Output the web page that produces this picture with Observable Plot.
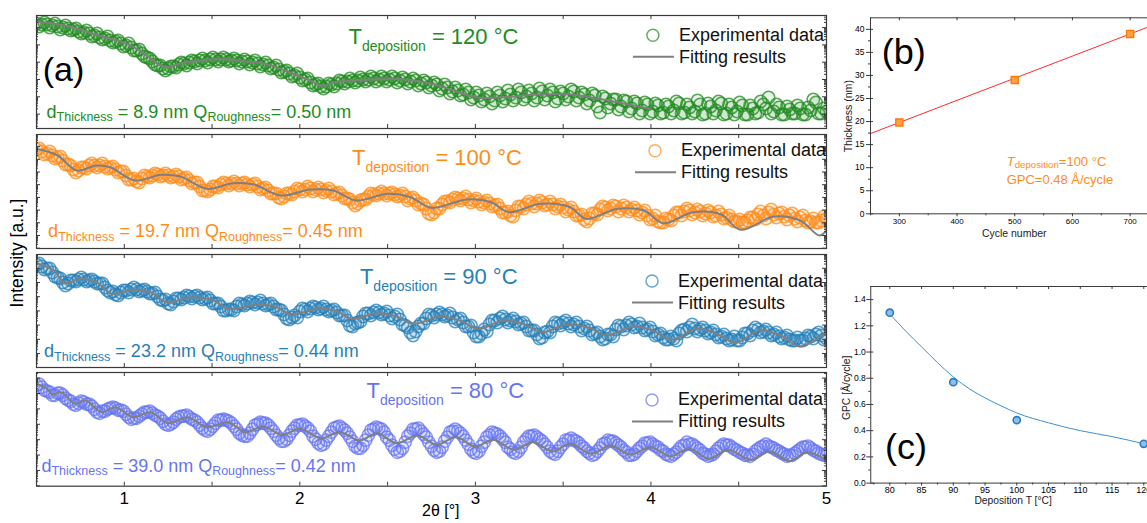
<!DOCTYPE html>
<html><head><meta charset="utf-8">
<script src="https://cdn.jsdelivr.net/npm/d3@7"></script>
<script src="https://cdn.jsdelivr.net/npm/@observablehq/plot@0.6"></script>
<style>
html,body{margin:0;padding:0;background:#fff;overflow:hidden}
#fig{position:relative;width:1147px;height:523px;overflow:hidden;background:#fff}
</style></head>
<body><div id="fig"></div>
<script>
const FONT = '"Liberation Sans", Arial, Helvetica, sans-serif';

// ---------- (a) X-ray reflectivity data (log intensity, arbitrary units) ----------
// readings taken every 0.03° starting at 0.5° (set A) and at the in-between positions (set B)
const startA = 0.5, startB = 0.515, stepExp = 0.03;
const temps = [120, 100, 90, 80];
const colors = ["#228b22", "#ff8c1a", "#2680b8", "#6674f2"];
const thickVals = ["8.9", "19.7", "23.2", "39.0"];
const roughVals = ["0.50", "0.45", "0.44", "0.42"];
const xTickLabels = [1, 2, 3, 4, 5];
const xMinorTicks = [1, 1.5, 2, 2.5, 3, 3.5, 4, 4.5];

const exp120 = [
105,104,104,103,102,101,100,99,97,96,
95,93,91,90,88,87,85,83,81,78,
75,71,67,63,60,60,62,64,65,66,
67,68,68,69,69,69,69,68,68,67,
67,66,65,64,63,61,59,57,55,53,
51,49,46,44,42,42,44,45,47,47,
48,48,49,49,50,49,50,49,50,48,
49,47,48,45,46,43,44,40,41,37,
38,34,36,31,33,29,32,28,33,30,
34,31,36,32,35,31,37,33,36,30,
35,32,37,31,34,28,33,16,30,25,
29,22,27,20,25,18,24,17,23,16,
22,18,25,16,21,17,24,15,22,18,
25,15,21,17,23,14,20,16,24,31,
17,21,14,19,15,20,14,18,26,15,
17];
const exp120b = [
102,106,101,105,99,103,98,100,95,98,
92,95,89,92,86,88,82,85,78,79,
72,70,64,63,58,62,61,66,63,68,
65,70,66,71,67,71,67,70,65,69,
64,68,62,66,60,63,56,58,52,55,
48,50,43,45,40,45,42,48,45,50,
46,51,47,52,47,52,47,52,46,51,
45,50,43,48,41,46,38,44,35,41,
33,39,29,36,27,35,25,36,27,38,
28,39,29,38,28,40,29,39,27,37,
29,39,28,36,25,35,22,32,21,29,
19,28,17,27,15,26,15,25,15,24,
15,27,15,24,15,28,14,25,15,27,
14,24,14,26,14,23,15,27,20,15,
24,14,22,15,23,14,21,29,15,20];
const exp100 = [
99,97,95,93,91,88,84,79,78,81,
83,83,83,82,81,79,77,73,69,67,
70,72,73,74,73,73,72,72,70,68,
66,62,58,59,62,64,65,65,65,65,
64,64,62,60,58,55,51,52,55,57,
59,59,60,59,59,58,57,55,53,50,
46,45,49,52,54,55,55,55,54,53,
52,50,48,45,40,34,40,44,47,49,
50,50,49,48,47,46,45,43,40,36,
33,38,42,44,45,45,46,44,44,42,
41,39,37,33,29,30,35,39,41,40,
42,40,41,39,38,36,33,30,27,26,
29,33,36,37,38,36,37,35,36,33,
34,31,29,27,26,28,31,34,33,36,
34,35,32,33,30,31,28,27,26,28,
30];
const exp100b = [
100,94,97,90,92,84,83,76,81,80,
85,81,85,80,82,76,77,69,70,66,
73,71,75,72,75,71,74,69,71,65,
66,58,57,62,61,66,63,67,63,66,
62,65,59,61,55,55,50,55,54,60,
57,62,57,61,56,60,54,56,50,49,
43,48,49,55,53,57,53,56,52,55,
48,51,44,44,35,36,40,47,46,51,
48,52,46,50,44,48,42,44,36,37,
32,42,40,47,42,48,43,47,40,44,
37,41,33,34,27,35,34,42,38,43,
37,43,37,41,34,38,29,33,26,30,
28,36,33,40,34,39,33,38,32,37,
30,33,27,29,26,31,29,37,30,39,
31,36,29,35,27,33,26,30,26,32];
const exp90 = [
103,101,99,95,90,85,84,87,88,88,
87,86,84,80,75,73,75,77,78,78,
77,76,74,71,67,64,66,69,70,71,
71,70,69,67,64,61,57,58,61,63,
64,65,65,64,63,61,58,53,48,52,
56,58,59,60,59,58,57,55,52,47,
41,45,51,54,55,55,54,52,51,48,
42,35,36,44,49,52,53,53,52,50,
48,45,41,35,31,38,43,47,49,48,
47,46,44,41,37,33,30,36,41,44,
45,44,43,41,39,37,34,31,29,33,
38,41,42,43,41,40,38,36,33,30,
28,29,34,38,40,39,38,37,35,33,
31,29,28,27,30,34,37,38,36,35,
33,31,30,28,27,27,29,31,33,32,
29];
const exp90b = [
104,98,99,91,89,82,87,86,90,86,
88,84,84,77,76,72,77,75,80,76,
78,74,75,68,68,63,69,68,72,69,
72,68,70,64,64,57,58,57,64,62,
66,63,67,62,64,58,57,49,50,50,
59,56,61,58,61,56,58,52,52,42,
44,46,54,52,57,53,56,49,53,43,
40,32,41,44,53,50,55,51,54,46,
49,41,42,31,34,36,47,45,51,45,
49,43,45,37,37,29,35,35,45,42,
47,41,45,37,41,33,35,28,33,31,
42,38,45,40,44,37,40,32,34,28,
31,27,37,36,43,36,40,34,37,30,
33,27,31,27,34,32,40,35,38,32,
35,29,32,27,30,27,32,29,35,28];
const exp80 = [
101,99,95,91,93,91,86,82,83,84,
82,77,73,75,78,78,76,72,67,68,
72,74,73,70,65,61,64,69,70,69,
66,61,56,57,63,66,66,63,57,51,
50,57,62,63,61,55,48,45,51,58,
61,60,55,47,41,46,54,59,58,53,
45,38,41,51,57,58,54,46,37,35,
44,53,57,55,49,40,34,39,49,55,
55,50,42,34,35,44,51,53,50,44,
37,33,39,47,50,49,45,39,33,35,
42,46,46,43,38,33,32,38,43,45,
43,39,34,31,35,40,43,42,39,35,
31,32,37,41,42,40,36,32,31,35,
40,41,39,36,33,31,32,37,40,40,
38,35,32,31,33,37,39,38,35,32,
31];
const exp80b = [
102,96,94,91,93,88,85,81,85,82,
80,74,75,77,79,76,75,69,68,70,
74,75,71,68,62,62,67,70,71,67,
64,58,55,60,66,67,65,60,53,50,
53,61,64,63,58,51,45,47,55,61,
62,58,50,43,42,50,58,60,56,49,
40,38,46,56,59,57,49,41,34,38,
50,57,58,52,44,36,35,45,54,57,
53,46,37,33,40,49,54,52,47,39,
34,35,44,50,51,47,42,35,32,39,
46,48,45,40,35,31,35,42,46,45,
41,36,31,32,38,43,44,40,36,32,
30,34,40,44,42,38,33,30,32,38,
42,41,37,34,31,30,35,39,42,39,
36,33,30,31,35,39,40,36,33,31];

const fit120 = [[0.50,107],[0.67,102.7],[0.86,92.7],[1.02,84.4],[1.13,72.7],[1.21,62.7],[1.26,61.7],[1.32,65],[1.43,67.7],[1.55,69.4],[1.66,67.7],[1.81,64.4],[1.96,54.7],[2.06,47.7],[2.13,42.7],[2.19,46],[2.38,48.7],[2.57,49.4],[2.76,44.4],[3.01,31],[3.14,31],[3.33,33.7],[3.52,34.4],[3.71,29.4],[4.00,19.4]];
const fit100 = [[0.50,99.7],[0.62,93],[0.73,78],[0.84,83],[0.92,81.3],[1.06,68],[1.21,73.7],[1.32,72],[1.47,59.7],[1.62,65.3],[1.74,64],[1.89,53],[2.06,59],[2.19,58],[2.32,48],[2.50,54.7],[2.63,51.3],[2.75,40.7],[2.95,49],[3.09,46.3],[3.19,36.3],[3.37,44.7],[3.54,41.3],[3.63,29.7],[3.81,39.7],[3.96,38],[4.07,25.3],[4.24,36.3],[4.40,34],[4.51,18.7],[4.70,32],[4.85,28],[4.96,13],[5.00,18]];
const fit90 = [[0.50,104.3],[0.60,97],[0.66,84.3],[0.75,88.7],[0.84,85.3],[0.93,73.7],[1.05,77.7],[1.15,75.3],[1.24,65.3],[1.39,70.3],[1.51,67],[1.59,58.7],[1.77,63],[1.87,60.3],[1.95,53],[2.10,58.7],[2.21,56.3],[2.30,48.7],[2.44,54.3],[2.55,51],[2.65,43.7],[2.80,51],[2.91,47],[3.02,38.7],[3.16,47],[3.27,43.7],[3.38,35.3],[3.52,43],[3.65,39.7],[3.75,32],[3.90,41],[4.01,37],[4.12,27.7],[4.26,38.7],[4.37,34.3],[4.48,24.7],[4.62,37],[4.74,32],[4.85,21],[5.00,35.3]];
const fit80 = [[0.50,102.4],[0.56,97.4],[0.59,91.7],[0.64,94],[0.72,82.4],[0.78,85.7],[0.87,74],[0.95,79],[1.05,69],[1.15,74],[1.25,63],[1.36,69],[1.47,59],[1.59,64],[1.69,54],[1.79,59.7],[1.90,51.4],[2.00,57.4],[2.12,48],[2.23,54],[2.34,45.7],[2.44,53],[2.55,43],[2.67,50.7],[2.78,41.5],[2.89,49],[3.00,39.7],[3.10,46.4],[3.22,36.4],[3.33,44],[3.44,34.7],[3.54,42.4],[3.66,32.4],[3.77,40.7],[3.88,31.7],[4.00,39],[4.11,30],[4.22,37.4],[4.33,27.4],[4.44,36.4],[4.57,26.4],[4.68,34.7],[4.79,25],[4.89,34],[5.00,25.7]];

// ---------- (b) thickness vs cycles ----------
const cycles = [300, 500, 700];
const thickness = [19.8, 29.0, 39.0];
const thickFit = [[250, 17.4], [750, 41.4]];
const cycleTicks = [300, 400, 500, 600, 700];
const cycleMinor = [250, 350, 450, 550, 650, 750];
const thickTicks = [0, 5, 10, 15, 20, 25, 30, 35, 40];
const thickMinor = [2.5, 7.5, 12.5, 17.5, 22.5, 27.5, 32.5, 37.5];

// ---------- (c) GPC vs deposition temperature ----------
const depT = [80, 90, 100, 120];
const gpc = [1.30, 0.77, 0.48, 0.30];
const gpcFit = [[80,1.29],[82.5,1.16],[85,1.04],[87.5,0.92],[90,0.81],[92.5,0.72],[95,0.65],[97.5,0.59],[100,0.535],[105,0.46],[110,0.40],[115,0.355],[120,0.30]];
const tempTicks = [80, 85, 90, 95, 100, 105, 110, 115, 120];
const tempMinor = [77.5, 82.5, 87.5, 92.5, 97.5, 102.5, 107.5, 112.5, 117.5];
const gpcTicks = [0, 0.2, 0.4, 0.6, 0.8, 1.0, 1.2, 1.4];
const gpcMinor = [0.1, 0.3, 0.5, 0.7, 0.9, 1.1, 1.3];

// ---------- helpers ----------
const fig = document.getElementById("fig");
function place(svg, left, top) {
  svg.style.position = "absolute";
  svg.style.left = left + "px";
  svg.style.top = top + "px";
  svg.style.maxWidth = "none";
  fig.appendChild(svg);
}
function scaler(chart, name) {
  const s = chart.scale(name);
  if (s && typeof s.apply === "function") return v => s.apply(v);
  const [d0, d1] = s.domain, [r0, r1] = s.range;
  return v => r0 + (v - d0) / (d1 - d0) * (r1 - r0);
}
function rich(g, x, y, parts, o = {}) {
  const t = g.append("text").attr("x", x).attr("y", y)
    .attr("fill", o.fill || "#000").attr("font-family", FONT)
    .attr("text-anchor", o.anchor || "start")
    .style("white-space", "pre");
  if (o.rotate) t.attr("transform", `rotate(-90,${x},${y})`);
  let cur = 0;
  for (const p of parts) {
    const off = p.dy || 0;
    const ts = t.append("tspan").attr("font-size", p.size).text(p.t);
    if (off !== cur) ts.attr("dy", off - cur);
    if (p.italic) ts.attr("font-style", "italic");
    cur = off;
  }
  return t;
}
const baseStyle = {background: "transparent", fontFamily: FONT, color: "#000", overflow: "visible"};
const AX = "#3a3a3a";

// ---------- (a) panels ----------
const expsA = [exp120, exp100, exp90, exp80];
const expsB = [exp120b, exp100b, exp90b, exp80b];
const fits = [fit120, fit100, fit90, fit80];
const panelsA = [
  {top: 14.7, bottom: 127.7, dec: [14.4, 17.3], title: [2.28, 84.4], dlab: [0.56, 10.4], leg: [4.014, 92.7]},
  {top: 134, bottom: 248, dec: [13, 12.7], title: [2.30, 83], dlab: [0.569, 10.7], leg: [4.026, 97.3]},
  {top: 254, bottom: 367, dec: [14, 14.2], title: [2.345, 82.7], dlab: [0.546, 9.7], leg: [4.009, 86]},
  {top: 372, bottom: 485.7, dec: [15.7, 15.4], title: [2.383, 87.4], dlab: [0.531, 14], leg: [4.009, 85.7]}
];

panelsA.forEach((P, k) => {
  const H = P.bottom - P.top, W = 790;
  const mT = 6, mB = k === 3 ? 40 : 6, mL = 36, mR = 12;
  const data = [
    ...expsA[k].map((v, i) => ({x: startA + i * stepExp, y: v})),
    ...expsB[k].map((v, i) => ({x: startB + i * stepExp, y: v}))
  ].sort((a, b) => a.x - b.x);
  const fit = fits[k].map(([x, y]) => ({x, y}));
  const [d0, ds] = P.dec;
  const major = [], minor = [];
  for (let m = d0 - ds; m <= H; m += ds) {
    if (m >= 0) major.push(m);
    for (let j = 2; j <= 9; j++) {
      const v = m + Math.log10(j) * ds;
      if (v > 0.5 && v < H - 0.5) minor.push(v);
    }
  }
  const marks = [
    Plot.dot(data, {x: "x", y: "y", r: 6.2, stroke: colors[k], fill: colors[k], fillOpacity: 0.1, strokeWidth: 1.5, strokeOpacity: 0.75, clip: true}),
    Plot.line(fit, {x: "x", y: "y", stroke: "#7f7f7f", strokeWidth: 2, curve: "catmull-rom", clip: true}),
    Plot.frame({stroke: AX, strokeWidth: 1.2}),
    Plot.tickX(xMinorTicks, {x: d => d, insetBottom: H - 4, stroke: AX}),
    Plot.tickX(xMinorTicks, {x: d => d, insetTop: H - 4, stroke: AX}),
    Plot.tickY(major, {y: d => d, insetRight: W - 4, stroke: AX}),
    Plot.tickY(major, {y: d => d, insetLeft: W - 4, stroke: AX}),
    Plot.tickY(minor, {y: d => d, insetRight: W - 2, stroke: AX}),
    Plot.tickY(minor, {y: d => d, insetLeft: W - 2, stroke: AX})
  ];
  if (k === 3) marks.push(Plot.axisX(xTickLabels, {anchor: "bottom", tickSize: 0, tickPadding: 6, fontSize: 17, label: null, fill: "#000", tickFormat: d => String(d)}));
  const chart = Plot.plot({
    width: mL + W + mR, height: H + mT + mB,
    marginTop: mT, marginBottom: mB, marginLeft: mL, marginRight: mR,
    style: baseStyle,
    x: k === 3 ? {domain: [0.5, 5]} : {domain: [0.5, 5], axis: null},
    y: {domain: [0, H], axis: null},
    marks
  });
  place(chart, 0, P.top - mT);
  const X = scaler(chart, "x"), Y = scaler(chart, "y");
  const g = d3.select(chart).append("g");
  const c = colors[k];
  rich(g, X(P.title[0]), Y(P.title[1]), [
    {t: "T", size: 22}, {t: "deposition", size: 14, dy: 7}, {t: ` = ${temps[k]} °C`, size: 22, dy: 0}
  ], {fill: c});
  rich(g, X(P.dlab[0]), Y(P.dlab[1]), [
    {t: "d", size: 18}, {t: "Thickness", size: 12.5, dy: 3.5},
    {t: ` = ${thickVals[k]} nm Q`, size: 18, dy: 0}, {t: "Roughness", size: 12.5, dy: 3.5},
    {t: `= ${roughVals[k]} nm`, size: 18, dy: 0}
  ], {fill: c});
  const lx = X(P.leg[0]), ly = Y(P.leg[1]);
  g.append("circle").attr("cx", lx).attr("cy", ly).attr("r", 6)
    .attr("fill", "none").attr("stroke", c).attr("stroke-width", 1.5).attr("stroke-opacity", 0.7);
  rich(g, lx + 26, ly + 5.5, [{t: "Experimental data", size: 18}], {fill: "#111"});
  g.append("line").attr("x1", lx - 20).attr("x2", lx + 21).attr("y1", ly + 21.5).attr("y2", ly + 21.5)
    .attr("stroke", "#7f7f7f").attr("stroke-width", 2);
  rich(g, lx + 26, ly + 27.5, [{t: "Fitting results", size: 18}], {fill: "#111"});
  if (k === 0) rich(g, X(0.538), Y(46.7), [{t: "(a)", size: 34}]);
  if (k === 3) rich(g, X(2.806), Y(-30.3), [{t: "2θ [°]", size: 16}], {anchor: "middle"});
});

// y label for (a)
const ov = d3.select(fig).append("svg").attr("width", 1147).attr("height", 523)
  .style("position", "absolute").style("left", "0px").style("top", "0px").style("pointer-events", "none");
rich(ov, 23, 253, [{t: "Intensity [a.u.]", size: 17.5}], {anchor: "middle", rotate: true});

// ---------- (b) ----------
{
  const mL = 40, mT = 17.3, mB = 32, pw = 288.5, ph = 196;
  const pts = cycles.map((c, i) => ({c, t: thickness[i]}));
  const chart = Plot.plot({
    width: mL + pw + 4, height: mT + ph + mB,
    marginLeft: mL, marginRight: 4, marginTop: mT, marginBottom: mB,
    style: baseStyle,
    x: {domain: [250, 750]}, y: {domain: [0, 42.5]},
    marks: [
      Plot.line(thickFit, {x: d => d[0], y: d => d[1], stroke: "#ff2a2a", strokeWidth: 1}),
      Plot.dot(pts, {x: "c", y: "t", symbol: "square", r: 4, fill: "#ffa24a", stroke: "#ff7a00", strokeWidth: 1.4}),
      Plot.ruleX([250], {stroke: AX}),
      Plot.ruleY([0], {stroke: AX}),
      Plot.ruleY([42.5], {stroke: AX}),
      Plot.tickX(cycleTicks, {x: d => d, insetBottom: ph - 3, stroke: AX}),
      Plot.tickY(thickTicks, {y: d => d, insetRight: pw - 3, stroke: AX}),
      Plot.axisX(cycleTicks, {anchor: "bottom", tickSize: 3, tickPadding: 2, fontSize: 8, label: null, stroke: AX}),
      Plot.axisX(cycleMinor, {anchor: "bottom", tickSize: 2, tickFormat: () => "", label: null, stroke: AX}),
      Plot.axisY(thickTicks, {anchor: "left", tickSize: 4, tickPadding: 2, fontSize: 8.5, label: null, stroke: AX}),
      Plot.axisY(thickMinor, {anchor: "left", tickSize: 2, tickFormat: () => "", label: null, stroke: AX})
    ]
  });
  place(chart, 830, 0);
  const X = scaler(chart, "x"), Y = scaler(chart, "y");
  const g = d3.select(chart).append("g");
  rich(g, X(270.3), Y(32.4), [{t: "(b)", size: 36}]);
  rich(g, X(487), Y(10.33), [
    {t: "T", size: 13, italic: true}, {t: "deposition", size: 9.7, dy: 2.6}, {t: "=100 °C", size: 13, dy: 0}
  ], {fill: "#ff8c1a"});
  rich(g, X(487), Y(6.29), [{t: "GPC=0.48 Å/cycle", size: 13}], {fill: "#ff8c1a"});
  rich(g, X(500), Y(-5.14), [{t: "Cycle number", size: 10.5}], {anchor: "middle", fill: "#222"});
  rich(g, X(218.8), Y(21.05), [{t: "Thickness (nm)", size: 10.6}], {anchor: "middle", rotate: true, fill: "#222"});
}

// ---------- (c) ----------
{
  const mL = 40.25, mT = 10, mB = 30, pw = 285.75, ph = 196.6;
  const pts = depT.map((t, i) => ({t, g: gpc[i]}));
  const chart = Plot.plot({
    width: mL + pw + 4, height: mT + ph + mB,
    marginLeft: mL, marginRight: 4, marginTop: mT, marginBottom: mB,
    style: baseStyle,
    x: {domain: [77, 122]}, y: {domain: [0, 1.5]},
    marks: [
      Plot.line(gpcFit, {x: d => d[0], y: d => d[1], stroke: "#3b8fd0", strokeWidth: 1, curve: "monotone-x"}),
      Plot.dot(pts, {x: "t", y: "g", r: 3.6, fill: "#8cc0e8", stroke: "#2b7bbd", strokeWidth: 1.6}),
      Plot.ruleX([77], {stroke: AX}),
      Plot.ruleY([0], {stroke: AX}),
      Plot.ruleY([1.5], {stroke: AX}),
      Plot.tickX(tempTicks, {x: d => d, insetBottom: ph - 3, stroke: AX}),
      Plot.tickY(gpcTicks, {y: d => d, insetRight: pw - 3, stroke: AX}),
      Plot.axisX(tempTicks, {anchor: "bottom", tickSize: 3, tickPadding: 1, fontSize: 9, label: null, stroke: AX}),
      Plot.axisX(tempMinor, {anchor: "bottom", tickSize: 2, tickFormat: () => "", label: null, stroke: AX}),
      Plot.axisY(gpcTicks, {anchor: "left", tickSize: 4, tickPadding: 1, fontSize: 8.5, label: null, tickFormat: d => d.toFixed(1), stroke: AX}),
      Plot.axisY(gpcMinor, {anchor: "left", tickSize: 2, tickFormat: () => "", label: null, stroke: AX})
    ]
  });
  place(chart, 830, 285.7 - mT);
  const X = scaler(chart, "x"), Y = scaler(chart, "y");
  const g = d3.select(chart).append("g");
  rich(g, X(79.32), Y(0.178), [{t: "(c)", size: 36}]);
  rich(g, X(99.5), Y(-0.162), [{t: "Deposition T [°C]", size: 10.3}], {anchor: "middle", fill: "#222"});
  rich(g, X(73.8), Y(0.723), [{t: "GPC [Å/cycle]", size: 10.4}], {anchor: "middle", rotate: true, fill: "#222"});
}
</script>
</body></html>
